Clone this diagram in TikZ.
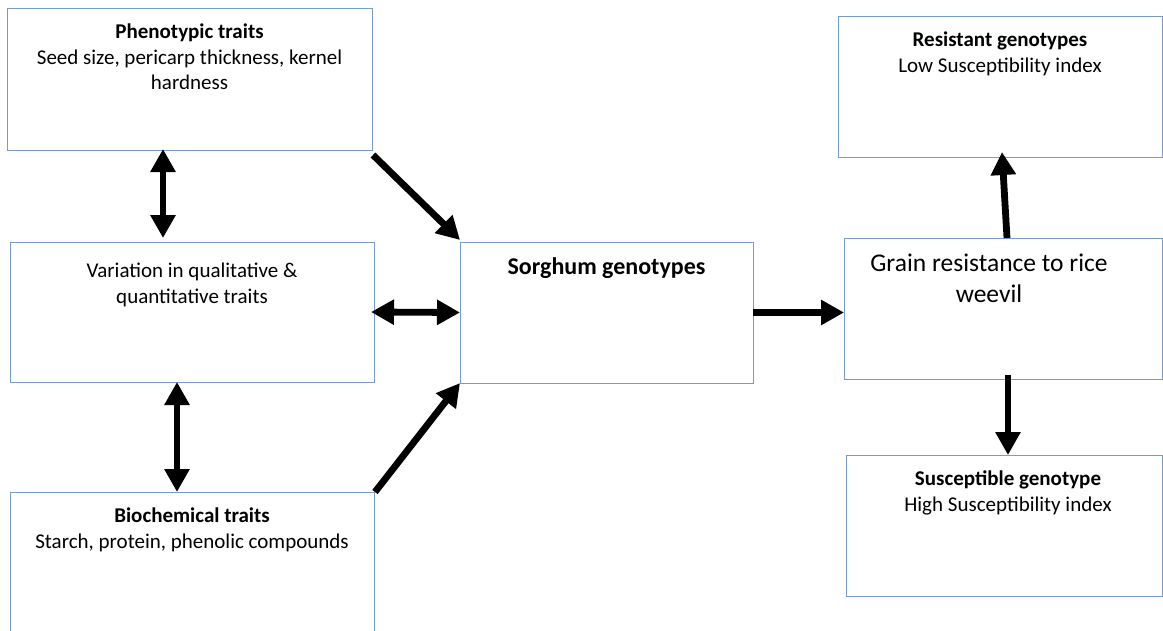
\documentclass[tikz,border=0pt]{standalone}
\usepackage{fontspec}
\setmainfont{Carlito}
\usetikzlibrary{arrows.meta, positioning}
\definecolor{boxblue}{RGB}{120,155,200}

\begin{document}
\begin{tikzpicture}[
    x=1pt, y=-1pt,
    box/.style={rectangle, draw=boxblue, line width=0.9pt, anchor=north west, inner sep=0pt, outer sep=0pt},
    txt/.style={anchor=north, align=center, inner sep=0pt, font=\fontsize{21}{25.5}\selectfont},
    bigtxt/.style={anchor=north, align=center, inner sep=0pt, font=\fontsize{25.5}{31}\selectfont},
    arr/.style={line width=6.8pt, -{Triangle[length=23pt, width=24pt]}},
    dblarr/.style={line width=6.8pt, {Triangle[length=23pt, width=24pt]}-{Triangle[length=23pt, width=24pt]}}
]
\path[use as bounding box, clip] (0,0) rectangle (1163,630);

% Trait boxes on the left
\node[box, minimum width=365pt, minimum height=142pt] (Pheno) at (7,8) {};
\node[box, minimum width=364pt, minimum height=140pt] (Variation) at (10,242) {};
\node[box, minimum width=364pt, minimum height=150pt] (Biochem) at (10,492) {};

% Genotypes in the middle
\node[box, minimum width=293pt, minimum height=141pt] (Sorghum) at (460,242) {};

% Resistance boxes on the right
\node[box, minimum width=324pt, minimum height=141pt] (Resistant) at (838,16) {};
\node[box, minimum width=318pt, minimum height=141pt] (Grain) at (844,238) {};
\node[box, minimum width=316pt, minimum height=141pt] (Susceptible) at (846,455) {};

% Texts
\node[txt] (PhenoText) at ([yshift=-16pt]Pheno.north) {\textbf{Phenotypic traits}\\Seed size, pericarp thickness, kernel\\hardness};
\node[txt] (VariationText) at ([yshift=-21pt]Variation.north) {Variation in qualitative \&\\quantitative traits};
\node[txt] (BiochemText) at ([yshift=-16pt]Biochem.north) {\textbf{Biochemical traits}\\Starch, protein, phenolic compounds};
\node[bigtxt, font=\fontsize{24}{30}\selectfont] (SorghumText) at ([yshift=-15pt]Sorghum.north) {\textbf{Sorghum genotypes}};
\node[txt] (ResistantText) at ([yshift=-16pt]Resistant.north) {\textbf{Resistant genotypes}\\Low Susceptibility\ index};
\node[bigtxt] (GrainText) at ([xshift=-14pt, yshift=-16pt]Grain.north) {Grain resistance to rice\\weevil};
\node[txt] (SusceptibleText) at ([xshift=4pt, yshift=-16pt]Susceptible.north) {\textbf{Susceptible genotype}\\High Susceptibility index};

% Connections
\draw[dblarr] ([xshift=-26.5pt, yshift=1pt]Pheno.south) -- ([xshift=-29pt, yshift=4pt]Variation.north);
\draw[dblarr] ([xshift=-15pt]Variation.south) -- ([xshift=-15pt]Biochem.north);
\draw[dblarr] ([xshift=-3pt]Variation.east) -- (Sorghum.west);
\draw[arr] ([shift={(1,5)}]Pheno.south east) -- ([shift={(0,-2)}]Sorghum.north west);
\draw[arr] ([shift={(1,0)}]Biochem.north east) -- (Sorghum.south west);
\draw[arr] (Sorghum.east) -- (Sorghum.east -| Grain.west);
\draw[arr] ([xshift=4pt]Grain.north) -- ([xshift=2pt, yshift=5pt]Resistant.south);
\draw[arr] ([xshift=5pt, yshift=4pt]Grain.south) -- ([xshift=4pt]Susceptible.north);

\end{tikzpicture}
\end{document}
